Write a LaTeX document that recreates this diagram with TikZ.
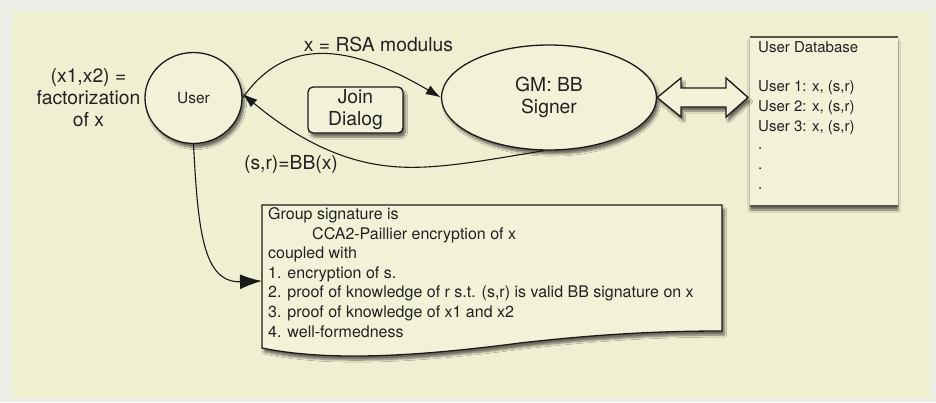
\documentclass[tikz,border=0pt]{standalone}
\usepackage{fontspec}
\setmainfont{TeX Gyre Heros}
\usetikzlibrary{arrows.meta,shapes.geometric,shadows.blur}
\definecolor{bgouter}{HTML}{EEEEE6}
\definecolor{bg}{HTML}{EFEFD2}
\definecolor{paper}{HTML}{F2F2D8}
\definecolor{ink}{HTML}{1A1A1A}
\definecolor{txt}{HTML}{222222}
\definecolor{dbline}{HTML}{55554A}
\tikzset{
  shp/.style={draw=ink, line width=1.3pt, fill=paper,
    blur shadow={shadow xshift=2.5pt, shadow yshift=-4pt, shadow opacity=55, shadow blur steps=6}},
  conn/.style={draw=ink, line width=1.1pt, -{Latex[length=15pt,width=10pt]}},
  bigconn/.style={draw=ink, line width=1.1pt, -{Latex[length=22pt,width=15pt]}},
  big/.style={text=txt, font=\fontsize{19.3}{22}\selectfont},
  mid/.style={text=txt, font=\fontsize{15.5}{19}\selectfont},
  dbtext/.style={text=txt, font=\fontsize{15}{20}\selectfont, anchor=base west, inner sep=0pt},
  doctext/.style={text=txt, font=\fontsize{16}{19.6}\selectfont, anchor=base west, inner sep=0pt},
}
\begin{document}
\begin{tikzpicture}[x=1pt,y=-1pt]
\useasboundingbox (0,0) rectangle (936,402);
\fill[bgouter] (0,0) rectangle (936,402);
\fill[bg] (11,11) rectangle (930,398);

% nodes
\node[shp, ellipse, minimum width=97pt, minimum height=91pt, inner sep=0pt, mid] (user) at (193.5,98) {User};
\node[shp, ellipse, minimum width=215pt, minimum height=105pt, inner sep=0pt, big, align=center] (gm) at (549,97.5) {GM: BB\\Signer};
\node[shp, rounded corners=5pt, minimum width=95pt, minimum height=46pt, inner sep=0pt, big, align=center] (join) at (355.5,110) {Join\\Dialog};

\node[big, align=center] (fact) at (88.5,98) {(x1,x2) =\\factorization\\of x};
\node[big] (rsa) at (378.5,44) {x = RSA modulus};
\node[big] (bbx) at (291,165) {(s,r)=BB(x)};

% database
\node[fill=paper, draw=none, minimum width=148pt, minimum height=169pt, inner sep=0pt,
  blur shadow={shadow xshift=0pt, shadow yshift=-4pt, shadow opacity=55, shadow blur steps=6}] (db) at (824,121.5) {};
\draw[dbline, line width=2pt] (db.north west) -- (db.north east);
\draw[dbline, line width=2pt] (db.south west) -- (db.south east);
\node[dbtext] (db0) at (758,52.5) {User Database};
\node[dbtext] (db1) at (758,91.5) {User 1: x, (s,r)};
\node[dbtext] (db2) at (758,111.5) {User 2: x, (s,r)};
\node[dbtext] (db3) at (758,131.5) {User 3: x, (s,r)};
\node[dbtext] (db4) at (758,149) {.};
\node[dbtext] (db5) at (758,169) {.};
\node[dbtext] (db6) at (758,189) {.};

% double arrow between GM and database
\coordinate (dbin) at (748,97.5);
\draw[shp, line width=1.3pt, fill=paper, line join=miter]
  (gm.east) -- (681,78) -- (681,88) -- (726,88) -- (726,78) -- (dbin)
  -- (726,117) -- (726,107) -- (681,107) -- (681,117) -- cycle;

% document
\draw[shp] (262,205) -- (722,205) -- (722,331)
  .. controls (660,331) and (600,334) .. (520,343)
  .. controls (420,356) and (330,362) .. (262,348) -- cycle;
\coordinate (docin) at (262,281);
\node[doctext] (g1) at (268,219.5) {Group signature is};
\node[doctext] (g2) at (312,239.1) {CCA2-Paillier encryption of x};
\node[doctext] (g3) at (268,258.7) {coupled with};
\node[doctext] (g4) at (268,278.3) {1. encryption of s.};
\node[doctext] (g5) at (268,297.9) {2. proof of knowledge of r s.t. (s,r) is valid BB signature on x};
\node[doctext] (g6) at (268,317.5) {3. proof of knowledge of x1 and x2};
\node[doctext] (g7) at (268,337.1) {4. well-formedness};

% connectors
\draw[conn] (user.east) .. controls (290,30) and (360,50) .. (gm.west);
\draw[conn] (gm.265) .. controls (475,162) and (425,172) .. (380,165)
  .. controls (325,157) and (280,125) .. (user.5);
\draw[bigconn] (user.south) .. controls (198,230) and (203,283) .. (docin);
\end{tikzpicture}
\end{document}
